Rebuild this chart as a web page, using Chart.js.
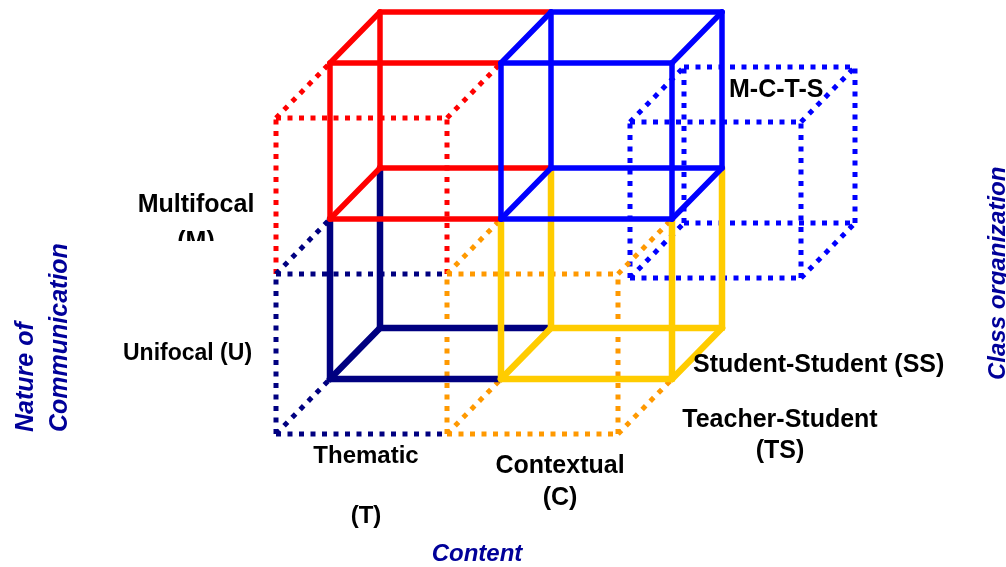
<!DOCTYPE html>
<html>
<head>
<meta charset="utf-8">
<script src="https://cdn.jsdelivr.net/npm/chart.js@4/dist/chart.umd.min.js"></script>
<style>
  html, body { margin: 0; padding: 0; background: #fff; }
  #wrap { width: 1006px; height: 567px; }
</style>
</head>
<body>
<div id="wrap"><canvas id="myChart" width="1006" height="567"></canvas></div>
<script>
// Category labels of the three dimensions
var contentLabels = [['Thematic', '(T)'], ['Contextual', '(C)']];
var natureLabels = [['Unifocal (U)'], ['Multifocal', '(M)']];
var orgLabels = [['Teacher-Student', '(TS)'], ['Student-Student (SS)']];
var contentTitle = ['Content'];
var natureTitle = ['Nature of', 'Communication'];
var orgTitle = ['Class organization'];

// The eight cells: index along content, nature and organisation
var cellNames   = ['U-T-TS', 'U-C-TS', 'M-T-TS', 'M-C-T-S', 'U-T-SS', 'U-C-SS', 'M-T-SS', 'M-C-SS'];
var cellContent = [0, 1, 0, 1, 0, 1, 0, 1];
var cellNature  = [0, 0, 1, 1, 0, 0, 1, 1];
var cellOrg     = [0, 0, 0, 0, 1, 1, 1, 1];

// Looks
var cellColor = ['#000080', '#FF9900', '#FF0000', '#0000FF', '#000080', '#FFCC00', '#FF0000', '#0000FF'];
var paintOrder = [3, 2, 0, 1, 4, 5, 6, 7];   // bottom to top
var shownName = 3;                           // the cell whose name is written

// Oblique projection of the lattice onto the page
var proj = {
  originX: 276, originY: 434,
  colX: [0, 171, 342],
  rowY: [0, 160, 316],
  depthX: [0, 54, 104],
  depthY: [0, 55, 106]
};
var explode = { 'M-C-T-S': { dx: 183, dy: 4 } };

function corner(ci, i, j, k) {
  var c = cellContent[ci] + i, n = cellNature[ci] + j, o = cellOrg[ci] + k;
  var ex = explode[cellNames[ci]] || { dx: 0, dy: 0 };
  return {
    key: (explode[cellNames[ci]] ? cellNames[ci] : '') + c + ',' + n + ',' + o,
    x: proj.originX + proj.colX[c] + proj.depthX[o] + ex.dx,
    y: proj.originY - proj.rowY[n] - proj.depthY[o] + ex.dy
  };
}

// every edge is drawn once, by the last cell that paints it
var owner = {};
var seq = 0;
paintOrder.forEach(function (ci) {
  for (var axis = 0; axis < 3; axis++) {
    for (var p = 0; p < 2; p++) {
      for (var q = 0; q < 2; q++) {
        var a = [0, 0, 0];
        var others = [0, 1, 2].filter(function (d) { return d !== axis; });
        a[others[0]] = p; a[others[1]] = q;
        var b = a.slice(); b[axis] = 1;
        var s = corner(ci, a[0], a[1], a[2]);
        var e = corner(ci, b[0], b[1], b[2]);
        owner[s.key + '|' + e.key] = { cell: ci, seq: seq++, s: s, e: e };
      }
    }
  }
});

var edges = Object.keys(owner).map(function (k) { return owner[k]; })
  .sort(function (u, v) { return u.seq - v.seq; });

var datasets = edges.map(function (ed) {
  var dotted = cellOrg[ed.cell] === 0;
  var col = cellColor[ed.cell];
  return {
    label: cellNames[ed.cell],
    data: [{ x: ed.s.x, y: ed.s.y }, { x: ed.e.x, y: ed.e.y }],
    showLine: true,
    borderColor: col,
    backgroundColor: col,
    borderWidth: dotted ? 5 : (col === '#000080' || col === '#FFCC00' ? 6.5 : 5.5),
    borderDash: dotted ? [5, 6.5] : [],
    borderCapStyle: dotted ? 'butt' : 'round',
    pointRadius: 0,
    clip: false
  };
}).reverse();   // first dataset is painted on top

var FONT = 'Arial, "Liberation Sans", sans-serif';
var labelSpots = [
  { t: natureLabels[1][0], x: 196, y: 212, size: 25, align: 'center' },
  { t: natureLabels[1][1], x: 196, y: 249, size: 25, align: 'center', clipY: 241 },
  { t: natureLabels[0][0], x: 123, y: 360, size: 23, align: 'left' },
  { t: contentLabels[0][0], x: 366, y: 463, size: 24, align: 'center' },
  { t: contentLabels[0][1], x: 366, y: 523, size: 24, align: 'center' },
  { t: contentLabels[1][0], x: 560, y: 473, size: 25, align: 'center' },
  { t: contentLabels[1][1], x: 560, y: 505, size: 25, align: 'center' },
  { t: orgLabels[1][0], x: 693, y: 372, size: 25, align: 'left' },
  { t: orgLabels[0][0], x: 780, y: 427, size: 25, align: 'center' },
  { t: orgLabels[0][1], x: 780, y: 458, size: 25, align: 'center' },
  { t: cellNames[shownName], x: 729, y: 97, size: 25, align: 'left' }
];
var titleSpots = [
  { t: contentTitle[0], x: 477, y: 561, size: 24, rot: false, align: 'center' },
  { t: natureTitle[0], x: 33, y: 432, size: 25, rot: true },
  { t: natureTitle[1], x: 67, y: 432, size: 25, rot: true },
  { t: orgTitle[0], x: 1005, y: 380, size: 24, rot: true }
];

var textPlugin = {
  id: 'cubeText',
  afterDraw: function (chart) {
    var ctx = chart.ctx;
    labelSpots.forEach(function (l) {
      ctx.save();
      if (l.clipY) { ctx.beginPath(); ctx.rect(0, 0, chart.width, l.clipY); ctx.clip(); }
      ctx.font = 'bold ' + l.size + 'px ' + FONT;
      ctx.fillStyle = '#000';
      ctx.textAlign = l.align;
      ctx.textBaseline = 'alphabetic';
      ctx.fillText(l.t, l.x, l.y);
      ctx.restore();
    });
    titleSpots.forEach(function (l) {
      ctx.save();
      ctx.font = 'italic bold ' + l.size + 'px ' + FONT;
      ctx.fillStyle = '#000099';
      ctx.textBaseline = 'alphabetic';
      if (l.rot) {
        ctx.translate(l.x, l.y);
        ctx.rotate(-Math.PI / 2);
        ctx.textAlign = 'left';
        ctx.fillText(l.t, 0, 0);
      } else {
        ctx.textAlign = l.align;
        ctx.fillText(l.t, l.x, l.y);
      }
      ctx.restore();
    });
  }
};

var ctx = document.getElementById('myChart');
var myChart = new Chart(ctx, {
  type: 'scatter',
  data: { datasets: datasets },
  options: {
    responsive: false,
    animation: false,
    devicePixelRatio: 1,
    events: [],
    layout: { padding: 0 },
    scales: {
      x: { type: 'linear', min: 0, max: 1006, display: false },
      y: { type: 'linear', min: 0, max: 567, reverse: true, display: false }
    },
    plugins: {
      legend: { display: false },
      tooltip: { enabled: false }
    }
  },
  plugins: [textPlugin]
});
</script>
</body>
</html>
